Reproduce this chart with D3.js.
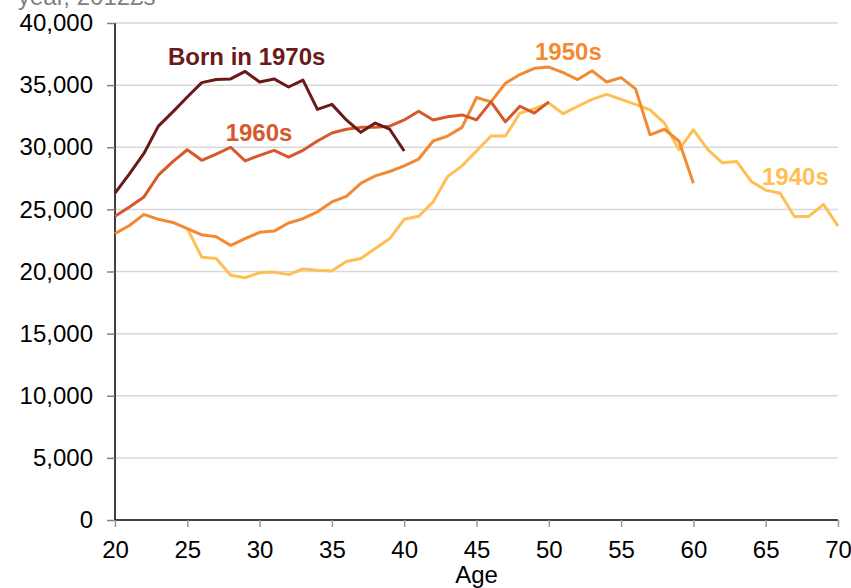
<!DOCTYPE html>
<html>
<head>
<meta charset="utf-8">
<style>
body { margin: 0; background: #fff; }
svg { display: block; font-family: "Liberation Sans", Arial, sans-serif; }
.grid line { stroke: #d9d9d9; stroke-width: 1.5; }
.line { fill: none; stroke-width: 3; stroke-linejoin: round; }
.lbl { font-weight: bold; font-size: 24px; }
</style>
</head>
<body>
<svg id="chart"></svg>
<script src="https://cdn.jsdelivr.net/npm/d3@7"></script>
<script>
// ages and incomes (2012 pounds)
var ages1970 = d3.range(20, 41)
var born1970 = [26300, 27850, 29500, 31700, 32850, 34050, 35200, 35450, 35500, 36100, 35250,
  35500, 34850, 35400, 33050, 33450, 32200, 31200, 31950, 31450, 29700]

var ages1960 = d3.range(20, 51)
var born1960 = [24450, 25200, 26000, 27750, 28850, 29800, 28950, 29450, 30000, 28900, 29350,
  29750, 29200, 29750, 30500, 31150, 31450, 31600, 31600, 31700, 32200,
  32900, 32200, 32450, 32600, 32200, 33650, 32050, 33300, 32750, 33650]

var ages1950 = d3.range(20, 61)
var born1950 = [23050, 23700, 24600, 24200, 23950, 23450, 22950, 22800, 22100, 22650, 23150,
  23250, 23900, 24250, 24800, 25600, 26050, 27100, 27700, 28050, 28500,
  29050, 30500, 30900, 31600, 34000, 33650, 35150, 35850, 36350, 36450,
  36000, 35450, 36150, 35250, 35600, 34700, 31000, 31450, 30500, 27100]

var ages1940 = d3.range(25, 71)
var born1940 = [23450, 21150, 21050, 19700, 19500, 19900, 19950, 19750, 20200, 20100, 20050,
  20800, 21050, 21850, 22650, 24200, 24450, 25600, 27650, 28500, 29700,
  30900, 30900, 32750, 33100, 33550, 32700, 33300, 33850, 34250, 33850,
  33450, 33000, 31950, 29800, 31400, 29800, 28750, 28850, 27250, 26550,
  26300, 24400, 24450, 25400, 23650]

var seriesNames = ["Born in 1970s", "1960s", "1950s", "1940s"]
var seriesColors = ["#6b1a1a", "#d6582b", "#f28a33", "#ffbf55"]
var xTicks = d3.range(20, 71, 5)
var yTicks = d3.range(0, 40001, 5000)

var W = 851, H = 588
var margin = {top: 23, right: 13, bottom: 68, left: 115}
var width = W - margin.left - margin.right,
    height = H - margin.top - margin.bottom

var svg = d3.select("#chart").attr("width", W).attr("height", H)

var x = d3.scaleLinear().domain([20, 70]).range([0, width])
var y = d3.scaleLinear().domain([0, 40000]).range([height, 0])

var g = svg.append("g")
    .attr("transform", "translate(" + margin.left + "," + margin.top + ")")

// gridlines
g.append("g").attr("class", "grid")
  .selectAll("line").data(yTicks.slice(1)).enter().append("line")
    .attr("x1", 0).attr("x2", width)
    .attr("y1", d => y(d)).attr("y2", d => y(d))

// y axis
var yAxis = g.append("g")
    .call(d3.axisLeft(y).tickValues(yTicks).tickFormat(d3.format(",")).tickSize(8).tickPadding(14))
yAxis.select(".domain").attr("stroke", "#000").attr("stroke-width", 1.5).attr("d", "M0," + height + "V0")
yAxis.selectAll(".tick line").attr("stroke", "#7f7f7f").attr("stroke-width", 1.5)
yAxis.selectAll(".tick text").attr("font-size", 24).attr("fill", "#000")
  .attr("font-family", "Liberation Sans, Arial, sans-serif")

// x axis
var xAxis = g.append("g").attr("transform", "translate(0," + height + ")")
    .call(d3.axisBottom(x).tickValues(xTicks).tickSize(7).tickPadding(14))
xAxis.select(".domain").attr("stroke", "#000").attr("stroke-width", 1.5).attr("d", "M0,0H" + width)
xAxis.selectAll(".tick line").attr("stroke", "#9a9a9a").attr("stroke-width", 1.5)
xAxis.selectAll(".tick text").attr("font-size", 24).attr("fill", "#000")
  .attr("font-family", "Liberation Sans, Arial, sans-serif")

g.append("text")
  .attr("x", x(45)).attr("y", height + 63)
  .attr("text-anchor", "middle").attr("font-size", 24)
  .text("Age")

// y title, cut off by the top edge
svg.append("text")
  .attr("x", 18).attr("y", 5)
  .attr("font-size", 24).attr("fill", "#808080")
  .text("year, 2012£s")

var line = d3.line()
  .x(d => x(d[0]))
  .y(d => y(d[1]))

var series = [
  [ages1940, born1940],
  [ages1950, born1950],
  [ages1960, born1960],
  [ages1970, born1970]
]
var colorIdx = [3, 2, 1, 0]
series.forEach(function(s, i) {
  var pts = s[0].map((a, j) => [a, s[1][j]])
  g.append("path").attr("class", "line")
    .attr("stroke", seriesColors[colorIdx[i]])
    .attr("stroke-width", colorIdx[i] < 2 ? 2.6 : 3)
    .attr("d", line(pts))
})

// series labels
var labelPos = [[168, 65, "start"], [259, 141, "middle"], [535, 60, "start"], [762, 185, "start"]]
seriesNames.forEach(function(n, i) {
  svg.append("text").attr("class", "lbl")
    .attr("x", labelPos[i][0]).attr("y", labelPos[i][1])
    .attr("text-anchor", labelPos[i][2])
    .attr("fill", seriesColors[i])
    .text(n)
})
</script>
</body>
</html>
